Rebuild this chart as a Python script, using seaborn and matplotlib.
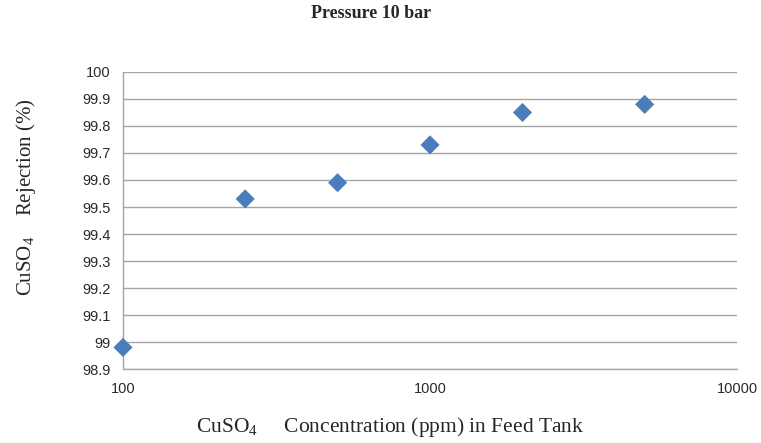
import pandas as pd
import seaborn as sns
import matplotlib.pyplot as plt

concentration = [100, 250, 500, 1000, 2000, 5000]
rejection = [98.98, 99.53, 99.59, 99.73, 99.85, 99.88]
y_ticks = [98.9, 99.0, 99.1, 99.2, 99.3, 99.4, 99.5, 99.6, 99.7, 99.8, 99.9, 100.0]
y_tick_labels = ['98.9', '99', '99.1', '99.2', '99.3', '99.4', '99.5', '99.6', '99.7', '99.8', '99.9', '100']
x_ticks = [100, 1000, 10000]
x_tick_labels = ['100', '1000', '10000']

df = pd.DataFrame({'conc': concentration, 'rej': rejection})

sns.set_style('white')
plt.rcParams['font.family'] = ['Liberation Serif', 'DejaVu Serif']
plt.rcParams['mathtext.fontset'] = 'custom'
plt.rcParams['mathtext.rm'] = 'Liberation Serif'

fig = plt.figure(figsize=(7.61, 4.43), dpi=100)
ax = fig.add_axes([0.1616, 0.167, 0.807, 0.6705])

sns.scatterplot(data=df, x='conc', y='rej', marker='D', s=95, color='#4A7EBB',
                edgecolor='none', ax=ax, zorder=3, clip_on=False)

ax.set_xscale('log')
ax.set_xlim(100, 10000)
ax.set_ylim(98.9, 100.0)
ax.set_xticks(x_ticks)
ax.set_xticklabels(x_tick_labels)
ax.xaxis.set_minor_locator(plt.NullLocator())
ax.set_yticks(y_ticks)
ax.set_yticklabels(y_tick_labels)

ax.yaxis.grid(True, color='#A6A6A6', linewidth=1.0)
ax.set_axisbelow(True)
for side in ['top', 'right']:
    ax.spines[side].set_visible(False)
for side in ['left', 'bottom']:
    ax.spines[side].set_color('#A6A6A6')
    ax.spines[side].set_linewidth(1.0)

ax.tick_params(axis='both', which='major', length=5, width=1.0, color='#A6A6A6',
               labelsize=10.5, labelcolor='#2a2a2a', pad=4)
for lbl in ax.get_xticklabels() + ax.get_yticklabels():
    lbl.set_family(['Liberation Sans', 'DejaVu Sans'])

ax.set_xlabel('')
ax.set_ylabel('')

# axis titles placed like the original (offset from the axes centre)
fig.text(390 / 761, 1 - 427 / 443, r'CuSO$_4$     Concentration (ppm) in Feed Tank',
         ha='center', va='center', fontsize=15.5)
fig.text(26 / 761, 1 - 197 / 443, r'CuSO$_4$    Rejection (%)',
         ha='center', va='center', fontsize=15, rotation=90)

fig.text(371 / 761, 1 - 14 / 443, 'Pressure 10 bar', ha='center', va='center',
         fontsize=13, fontweight='bold')

fig.savefig('out.png', dpi=100)
